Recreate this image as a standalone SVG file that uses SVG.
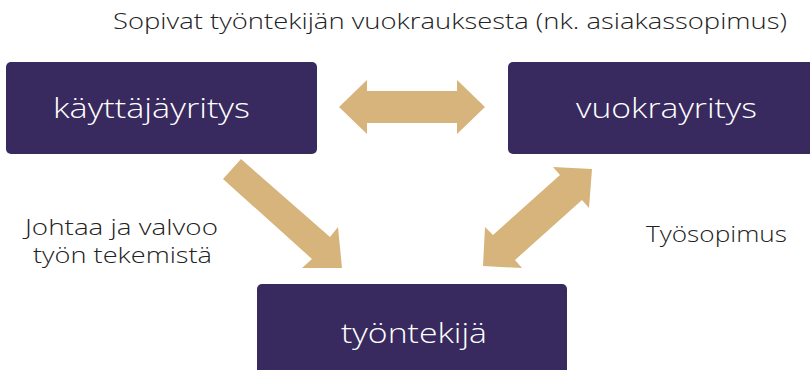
<svg xmlns="http://www.w3.org/2000/svg" width="810" height="370" viewBox="0 0 810 370">
<style>
.box{fill:#382a5e;}
.arrow{fill:#d6b47c;}
.lbl{font-family:"Open Sans","Noto Sans","Liberation Sans",sans-serif;font-weight:300;fill:#ffffff;font-size:28px;}
.txt{font-family:"Open Sans","Noto Sans","Liberation Sans",sans-serif;font-weight:300;fill:#222222;font-size:22px;}
</style>
<rect width="810" height="370" fill="#ffffff"/>
<g id="connectors">
<polygon class="arrow" points="339,107 367,80 367,91 457,91 457,80 485,107 457,134 457,123 367,123 367,134"/>
<polygon class="arrow" points="241,159 330,237 338,227 342,268 302,268 312,259 223,179"/>
<polygon class="arrow" points="592,169 589,208 582,200 515,260 522,268 483,266 485,227 493,235 560,175 553,167"/>
</g>
<g id="kayttajayritys">
<rect class="box" x="6" y="62" width="311" height="92" rx="5"/>
<text class="lbl" x="53" y="118" textLength="197" lengthAdjust="spacingAndGlyphs">käyttäjäyritys</text>
</g>
<g id="vuokrayritys">
<rect class="box" x="508" y="62" width="310" height="92" rx="5"/>
<text class="lbl" x="576" y="118" textLength="181" lengthAdjust="spacingAndGlyphs">vuokrayritys</text>
</g>
<g id="tyontekija">
<rect class="box" x="257" y="284" width="310" height="100" rx="5"/>
<text class="lbl" x="341" y="343" textLength="146" lengthAdjust="spacingAndGlyphs">työntekijä</text>
</g>
<g id="labels">
<text class="txt" x="113" y="29" textLength="674" lengthAdjust="spacingAndGlyphs">Sopivat työntekijän vuokrauksesta (nk. asiakassopimus)</text>
<text class="txt" x="25" y="235" textLength="193" lengthAdjust="spacingAndGlyphs">Johtaa ja valvoo</text>
<text class="txt" x="33" y="263" textLength="179" lengthAdjust="spacingAndGlyphs">työn tekemistä</text>
<text class="txt" x="646" y="242" textLength="141" lengthAdjust="spacingAndGlyphs">Työsopimus</text>
</g>
</svg>
